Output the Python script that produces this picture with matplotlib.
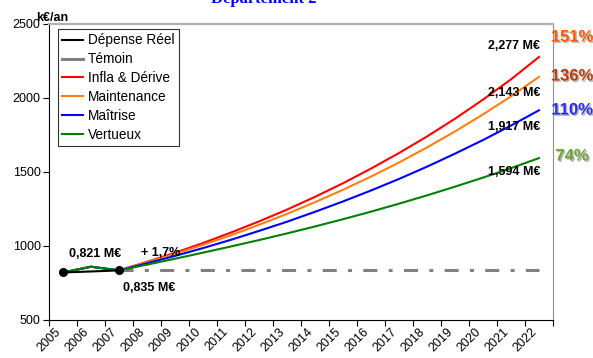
import numpy as np
import matplotlib
matplotlib.use("Agg")
import matplotlib.pyplot as plt
import matplotlib.patheffects as pe

plt.rcParams['font.family'] = ['Liberation Sans', 'DejaVu Sans']

# historique
annees_reel = [2005, 2007]
depense_reel = [821, 835]
annees_hist = [2005, 2006, 2007]
hist = [821, 860, 835]

# projections 2007 -> 2022
annees = list(range(2007, 2023))
temoin = [835] * len(annees)
infla = [835, 893, 954, 1020, 1091, 1166, 1246, 1332, 1424, 1523, 1628, 1740, 1860, 1989, 2126, 2277]
maintenance = [835, 889, 947, 1008, 1073, 1143, 1217, 1296, 1380, 1469, 1564, 1666, 1774, 1889, 2011, 2143]
maitrise = [835, 883, 933, 986, 1042, 1102, 1164, 1231, 1301, 1375, 1453, 1536, 1624, 1716, 1814, 1917]
vertueux = [835, 874, 914, 955, 997, 1040, 1085, 1132, 1181, 1232, 1286, 1342, 1401, 1462, 1526, 1594]

pourcents = ['151%', '136%', '110%', '74%']
couleurs_pct = ['#ff5a00', '#b8400e', '#2b2bff', '#6ea535']

fig = plt.figure(figsize=(5.93, 3.58), dpi=100)
ax = fig.add_axes([49/593, 38/358, 504/593, 296/358])

ax.plot(annees, temoin, color='#808080', lw=2.2, dashes=(4.6, 3.7, 1.3, 3.7), label='Témoin', zorder=2)
ax.plot(annees_hist + annees[1:], hist + infla[1:], color='#ff0000', lw=1.5, label='Infla & Dérive', zorder=3)
ax.plot(annees_hist + annees[1:], hist + maintenance[1:], color='#ff7f0e', lw=1.5, label='Maintenance', zorder=3)
ax.plot(annees_hist + annees[1:], hist + maitrise[1:], color='#0000ff', lw=1.5, label='Maîtrise', zorder=3)
ax.plot(annees_hist + annees[1:], hist + vertueux[1:], color='#008000', lw=1.5, label='Vertueux', zorder=3)
ax.plot(annees_reel, depense_reel, color='black', lw=1.5, marker='o', ms=5.5, label='Dépense Réel', zorder=4)

ax.set_xlim(2004.5, 2022.5)
ax.set_ylim(500, 2500)
ax.set_yticks([500, 1000, 1500, 2000, 2500])
ax.tick_params(axis='y', direction='out', length=4, labelsize=9, pad=2)

# axe de categories : traits aux limites, libelles au centre
ax.set_xticks(np.arange(2004.5, 2023, 1.0))
ax.set_xticklabels([])
ax.tick_params(axis='x', which='major', direction='out', length=4)
ax.set_xticks(range(2005, 2023), minor=True)
ax.set_xticklabels([str(a) for a in range(2005, 2023)], minor=True,
                   rotation=45, ha='right', va='top', fontsize=9)
ax.tick_params(axis='x', which='minor', length=0, pad=4)

ax.spines['left'].set_color('black')
ax.spines['bottom'].set_color('black')
ax.spines['top'].set_color('#b0b0b0')
ax.spines['top'].set_linewidth(1.6)
ax.spines['right'].set_color('#909090')

# legende
handles, labels = ax.get_legend_handles_labels()
ordre = [5, 0, 1, 2, 3, 4]
leg = ax.legend([handles[i] for i in ordre], [labels[i] for i in ordre],
                loc='upper left', bbox_to_anchor=(0.018, 0.982), fontsize=9.8,
                frameon=True, fancybox=False, handlelength=1.5, handletextpad=0.4,
                labelspacing=0.36, borderpad=0.3, borderaxespad=0)
leg.get_frame().set_edgecolor('black')
leg.get_frame().set_linewidth(0.8)
for h in leg.get_lines():
    h.set_marker('')
    h.set_linestyle('-')

# etiquettes de valeurs
gras = dict(fontsize=9, fontweight='bold', color='black')
ax.text(2005.2, 944, '0,821 M€', ha='left', va='center', **gras)
ax.text(2007.14, 715, '0,835 M€', ha='left', va='center', **gras)
ax.text(2007.8, 951, '+ 1,7%', ha='left', va='center', zorder=5, **gras)
ax.text(2022.05, 2352, '2,277 M€', ha='right', va='center', **gras)
ax.text(2022.05, 2035, '2,143 M€', ha='right', va='center', **gras)
ax.text(2022.05, 1806, '1,917 M€', ha='right', va='center', **gras)
ax.text(2022.05, 1497, '1,594 M€', ha='right', va='center', **gras)

fig.text(36/593, 1 - 21/358, 'k€/an', ha='left', va='baseline', fontsize=9, fontweight='bold')

fig.text(0.445, 1 - 3/358, 'Département 2', ha='center', va='baseline',
         fontsize=12, fontweight='bold', color='#0000ff', family='Liberation Serif')

# pourcentages a droite
pos_y = [37, 76, 110, 156]
for txt, c, py in zip(pourcents, couleurs_pct, pos_y):
    fig.text(572/593, 1 - py/358, txt, ha='center', va='center', fontsize=12,
             fontweight='bold', color=c, fontstretch='condensed',
             path_effects=[pe.SimplePatchShadow(offset=(1.0, -1.0), shadow_rgbFace='#a0a0a0', alpha=0.8),
                           pe.Normal()])

fig.savefig('out.png', dpi=100)
